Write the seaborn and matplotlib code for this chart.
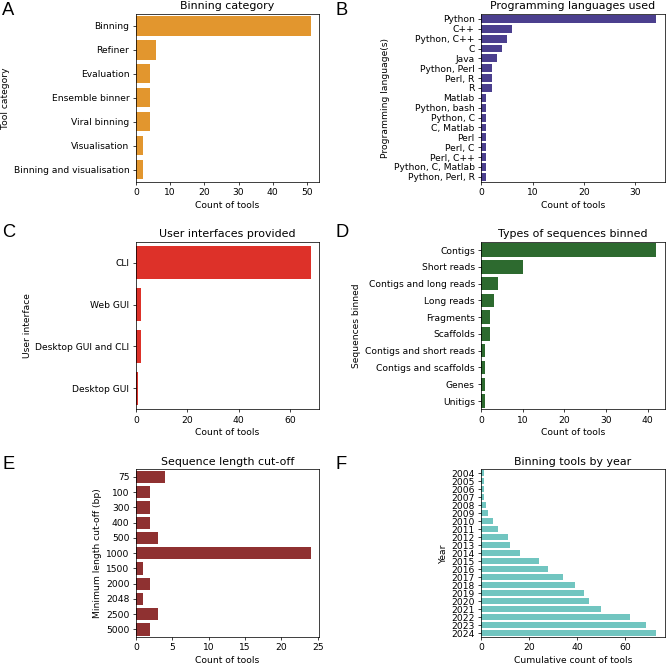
import matplotlib
matplotlib.use("Agg")
import matplotlib.pyplot as plt
import seaborn as sns
import pandas as pd

# Panel A - tool categories
categories = ["Binning", "Refiner", "Evaluation", "Ensemble binner",
              "Viral binning", "Visualisation", "Binning and visualisation"]
category_counts = [51, 6, 4, 4, 4, 2, 2]

# Panel B - programming languages
languages = ["Python", "C++", "Python, C++", "C", "Java", "Python, Perl",
             "Perl, R", "R", "Matlab", "Python, bash", "Python, C",
             "C, Matlab", "Perl", "Perl, C", "Perl, C++", "Python, C, Matlab",
             "Python, Perl, R"]
language_counts = [34, 6, 5, 4, 3, 2, 2, 2, 1, 1, 1, 1, 1, 1, 1, 1, 1]

# Panel C - user interfaces
interfaces = ["CLI", "Web GUI", "Desktop GUI and CLI", "Desktop GUI"]
interface_counts = [68, 2, 2, 1]

# Panel D - sequence types
seq_types = ["Contigs", "Short reads", "Contigs and long reads", "Long reads",
             "Fragments", "Scaffolds", "Contigs and short reads",
             "Contigs and scaffolds", "Genes", "Unitigs"]
seq_counts = [42, 10, 4, 3, 2, 2, 1, 1, 1, 1]

# Panel E - length cut-offs
cutoffs = ["75", "100", "300", "400", "500", "1000", "1500", "2000",
           "2048", "2500", "5000"]
cutoff_counts = [4, 2, 2, 2, 3, 24, 1, 2, 1, 3, 2]

# Panel F - cumulative tools by year
years = [str(y) for y in range(2004, 2025)]
cumulative_counts = [1, 1, 1, 1, 2, 3, 5, 7, 11, 12, 16, 24, 28, 34, 39,
                     43, 45, 50, 62, 69, 73]

panels = [
    ("A", categories, category_counts, "#E2962E", "Binning category",
     "Tool category", "Count of tools"),
    ("B", languages, language_counts, "#4B3F8E", "Programming languages used",
     "Programming language(s)", "Count of tools"),
    ("C", interfaces, interface_counts, "#DD3129", "User interfaces provided",
     "User interface", "Count of tools"),
    ("D", seq_types, seq_counts, "#2D6A2F", "Types of sequences binned",
     "Sequences binned", "Count of tools"),
    ("E", cutoffs, cutoff_counts, "#8F3131", "Sequence length cut-off",
     "Minimum length cut-off (bp)", "Count of tools"),
    ("F", years, cumulative_counts, "#71C5C0", "Binning tools by year",
     "Year", "Cumulative count of tools"),
]

fig, axes = plt.subplots(3, 2, figsize=(666 / 66, 665 / 66), dpi=66)
fig.subplots_adjust(left=0.204, right=0.998, top=0.979, bottom=0.042,
                    wspace=0.883, hspace=0.357)

letter_pos = {"A": (2, 2), "B": (336, 2), "C": (2, 224), "D": (336, 224),
              "E": (2, 456), "F": (336, 456)}

for ax, (letter, labels, counts, color, title, ylabel, xlabel) in zip(axes.flat, panels):
    df = pd.DataFrame({"label": labels, "count": counts})
    sns.barplot(data=df, x="count", y="label", color=color, saturation=1, ax=ax)
    ax.set_title(title, fontsize=12, pad=5)
    ax.set_ylabel(ylabel)
    ax.set_xlabel(xlabel)
    lx, ly = letter_pos[letter]
    fig.text(lx / 666, 1 - ly / 665, letter, fontsize=20, family="Liberation Sans",
             ha="left", va="top")

fig.savefig("out.png", dpi=66)
